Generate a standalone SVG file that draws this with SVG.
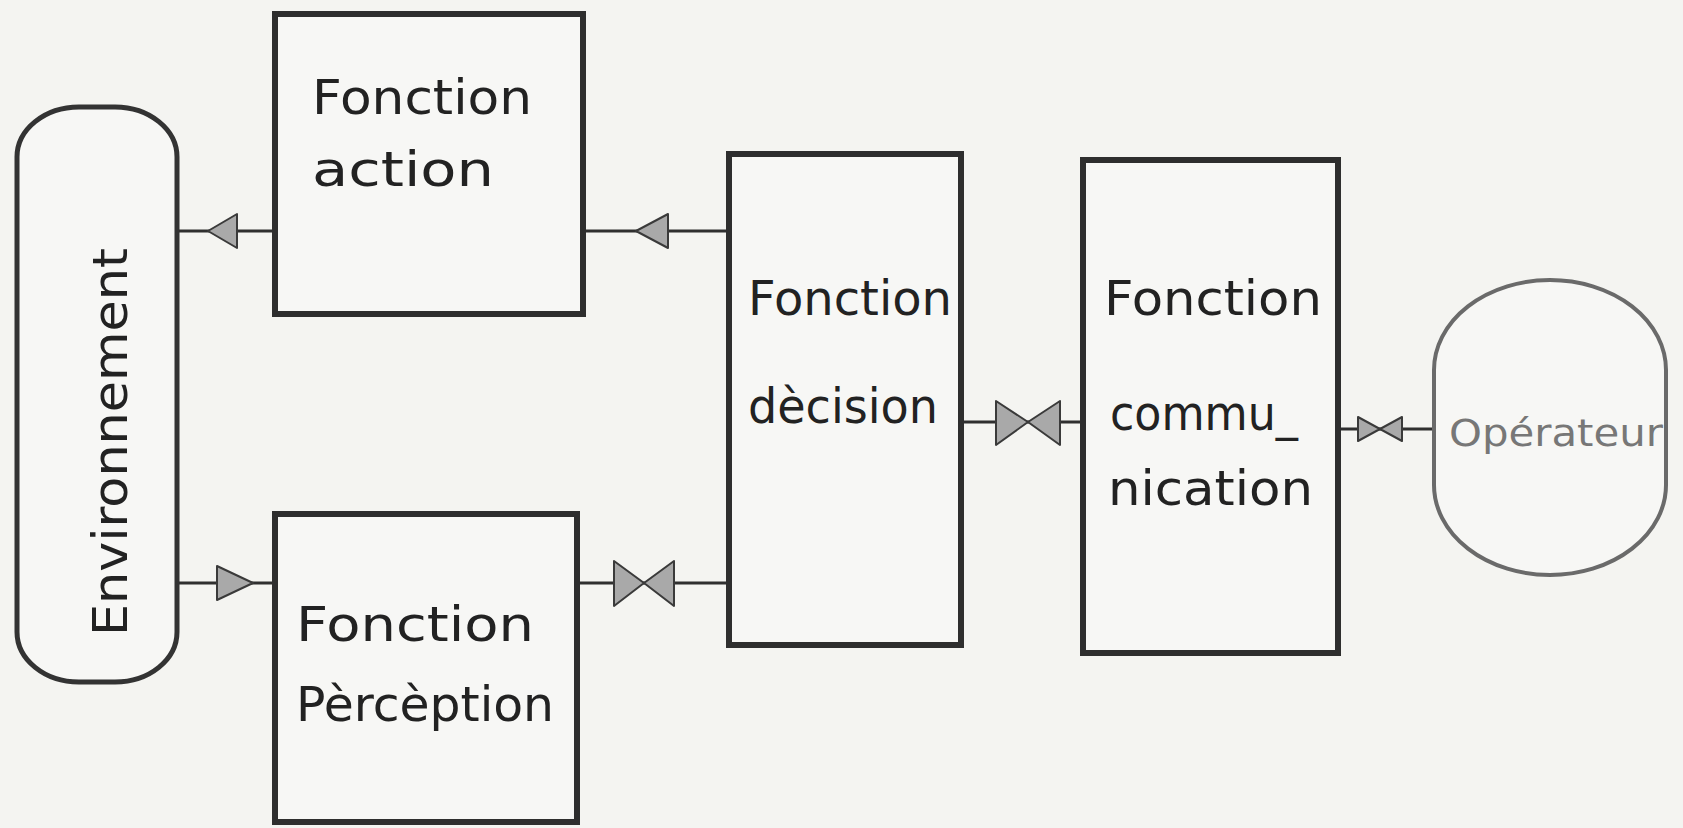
<svg xmlns="http://www.w3.org/2000/svg" width="1683" height="828" viewBox="0 0 1683 828">
<defs>
<style>
.bg{fill:#f4f4f1}
.box{fill:#f7f7f5;stroke:#2e2e2e;stroke-width:6}
.pill{fill:#f7f7f5;stroke:#333;stroke-width:5}
.op{fill:#f7f7f5;stroke:#6a6a6a;stroke-width:4}
.line{stroke:#2f2f2f;stroke-width:3;fill:none}
.arr{fill:#a9a9a9;stroke:#3a3a3a;stroke-width:2;stroke-linejoin:round}
.t{font-family:"DejaVu Sans","Liberation Sans",sans-serif;font-size:48px;fill:#222}
.tl{font-family:"DejaVu Sans","Liberation Sans",sans-serif;font-size:38px;fill:#777}
</style>
</defs>
<rect class="bg" x="0" y="0" width="1683" height="828"/>
<g id="connectors">
<line class="line" x1="177" y1="231" x2="274" y2="231"/>
<polygon class="arr" points="208,231 237,214 237,248"/>
<line class="line" x1="583" y1="231" x2="728" y2="231"/>
<polygon class="arr" points="636,231 668,214 668,248"/>
<line class="line" x1="177" y1="583" x2="274" y2="583"/>
<polygon class="arr" points="253,583 217,566 217,600"/>
<line class="line" x1="577" y1="583" x2="728" y2="583"/>
<polygon class="arr" points="614,561 644,583 614,606"/>
<polygon class="arr" points="674,561 644,583 674,606"/>
<line class="line" x1="961" y1="422" x2="1082" y2="422"/>
<polygon class="arr" points="996,401 1028,422 996,445"/>
<polygon class="arr" points="1060,401 1028,422 1060,445"/>
<line class="line" x1="1338" y1="429" x2="1433" y2="429"/>
<polygon class="arr" points="1358,417 1380,429 1358,441"/>
<polygon class="arr" points="1402,417 1380,429 1402,441"/>
</g>
<g id="environnement">
<rect class="pill" x="17" y="107" width="160" height="575" rx="62" ry="50"/>
<text class="t" transform="translate(127,636) rotate(-90)" font-size="50" textLength="388" lengthAdjust="spacingAndGlyphs">Environnement</text>
</g>
<g id="action">
<rect class="box" x="275" y="14" width="308" height="300"/>
<text class="t" x="312" y="114" textLength="220" lengthAdjust="spacingAndGlyphs">Fonction</text>
<text class="t" x="312" y="186" textLength="182" lengthAdjust="spacingAndGlyphs">action</text>
</g>
<g id="decision">
<rect class="box" x="729" y="154" width="232" height="491"/>
<text class="t" x="748" y="315" textLength="204" lengthAdjust="spacingAndGlyphs">Fonction</text>
<text class="t" x="748" y="423" textLength="190" lengthAdjust="spacingAndGlyphs">dècision</text>
</g>
<g id="communication">
<rect class="box" x="1083" y="160" width="255" height="493"/>
<text class="t" x="1104" y="315" textLength="218" lengthAdjust="spacingAndGlyphs">Fonction</text>
<text class="t" x="1110" y="430" textLength="188" lengthAdjust="spacingAndGlyphs">commu_</text>
<text class="t" x="1108" y="505" textLength="205" lengthAdjust="spacingAndGlyphs">nication</text>
</g>
<g id="perception">
<rect class="box" x="275" y="514" width="302" height="308"/>
<text class="t" x="296" y="641" textLength="238" lengthAdjust="spacingAndGlyphs">Fonction</text>
<text class="t" x="296" y="721" textLength="258" lengthAdjust="spacingAndGlyphs">Pèrcèption</text>
</g>
<g id="operateur">
<rect class="op" x="1434" y="280" width="232" height="295" rx="116" ry="90"/>
<text class="tl" x="1449" y="446" textLength="214" lengthAdjust="spacingAndGlyphs">Opérateur</text>
</g>
</svg>
